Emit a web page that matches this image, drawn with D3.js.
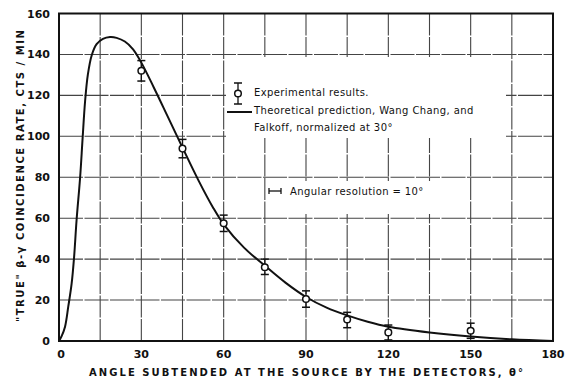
<!DOCTYPE html>
<html>
<head>
<meta charset="utf-8">
<script src="https://cdn.jsdelivr.net/npm/d3@7"></script>
<style>
  body { margin: 0; background: #fff; }
  text { font-family: "DejaVu Sans", sans-serif; fill: #111; }
</style>
</head>
<body>
<script>
// measured points (angle in degrees, rate in cts/min)
const angles = [30, 45, 60, 75, 90, 105, 120, 150];
const rates = [132, 94, 57.5, 36, 20.5, 10.5, 4.2, 5];
const errLow = [127, 89.5, 53.5, 32.5, 16.5, 6.5, 0.5, 1.3];
const errHigh = [137, 98.5, 61.5, 40, 24.5, 14, 7.8, 8.7];

// theoretical curve
const theoryAngle = [0, 1, 2.2, 3.4, 4.6, 5.5, 6.4, 7.7, 8.6, 9.5, 10.5, 11.9, 13.7, 16, 18.6, 21, 24, 27, 30, 34.5, 39.5, 45, 51, 56, 60, 67.5, 75, 82.5, 90, 97.5, 105, 112.5, 120, 135, 150, 165, 180];
const theoryRate = [0, 2.5, 7, 17, 28, 41, 59, 80, 99, 117, 130, 139.5, 145, 147.6, 148.5, 148.1, 146.3, 142.5, 136, 124, 110, 94.5, 78, 65.5, 57, 45.5, 36.8, 28.5, 21.5, 16.3, 12.5, 9.4, 7, 4.2, 2.2, 0.8, 0];

const xTicks = [0, 30, 60, 90, 120, 150, 180];
const yTicks = [0, 20, 40, 60, 80, 100, 120, 140, 160];
const xGrid = [15, 30, 45, 60, 75, 90, 105, 120, 135, 150, 165];
const yGrid = [20, 40, 60, 80, 100, 120, 140];

let width = 565;
let height = 379;

const svg = d3.select('body')
    .append('svg')
    .attr('width', width)
    .attr('height', height);

let x = d3.scaleLinear().domain([0, 180]).range([59, 553]);
let y = d3.scaleLinear().domain([0, 160]).range([341, 13.5]);

// grid
svg.append('g').selectAll('line')
    .data(xGrid)
    .enter().append('line')
    .attr('x1', d => x(d)).attr('x2', d => x(d))
    .attr('y1', y(160)).attr('y2', y(0))
    .attr('stroke', '#444').attr('stroke-width', 1.1)
    .attr('stroke-dasharray', '22,1.5');

svg.append('g').selectAll('line')
    .data(yGrid)
    .enter().append('line')
    .attr('x1', x(0)).attr('x2', x(180))
    .attr('y1', d => y(d)).attr('y2', d => y(d))
    .attr('stroke', '#444').attr('stroke-width', 1.1)
    .attr('stroke-dasharray', '24,1.5');

// white patches behind the legends
svg.append('rect').attr('x', 226).attr('y', 57).attr('width', 280).attr('height', 81).attr('fill', '#fff');
svg.append('rect').attr('x', 268).attr('y', 181).attr('width', 168).attr('height', 33).attr('fill', '#fff');

// frame
svg.append('rect')
    .attr('x', x(0)).attr('y', y(160))
    .attr('width', x(180) - x(0)).attr('height', y(0) - y(160))
    .attr('fill', 'none').attr('stroke', '#111').attr('stroke-width', 2);

// tick labels
svg.append('g').selectAll('text')
    .data(yTicks)
    .enter().append('text')
    .attr('x', 50).attr('y', d => y(d) + 4)
    .attr('text-anchor', 'end')
    .style('font-size', '11px').style('font-weight', 'bold')
    .text(d => d);

svg.append('g').selectAll('text')
    .data(xTicks)
    .enter().append('text')
    .attr('x', d => x(d) + (d === 0 ? 2 : 0)).attr('y', 358)
    .attr('text-anchor', 'middle')
    .style('font-size', '11px').style('font-weight', 'bold')
    .text(d => d);

// axis titles
svg.append('text')
    .attr('x', 89).attr('y', 376)
    .attr('textLength', 434).attr('lengthAdjust', 'spacing')
    .style('font-size', '10px').style('font-weight', 'bold')
    .text('ANGLE SUBTENDED AT THE SOURCE BY THE DETECTORS, θ°');

svg.append('text')
    .attr('transform', 'translate(24,322) rotate(-90)')
    .attr('textLength', 292).attr('lengthAdjust', 'spacing')
    .style('font-size', '10px').style('font-weight', 'bold')
    .text('"TRUE" β-γ COINCIDENCE RATE, CTS / MIN');

// theory curve
let line = d3.line()
    .x((d, i) => x(theoryAngle[i]))
    .y(d => y(d))
    .curve(d3.curveCatmullRom.alpha(0.5));

svg.append('path')
    .datum(theoryRate)
    .attr('d', line)
    .attr('fill', 'none')
    .attr('stroke', '#111')
    .attr('stroke-width', 2);

// experimental points with error bars
let pts = svg.append('g').selectAll('g')
    .data(angles)
    .enter().append('g');

pts.append('line')
    .attr('x1', d => x(d)).attr('x2', d => x(d))
    .attr('y1', (d, i) => y(errLow[i])).attr('y2', (d, i) => y(errHigh[i]))
    .attr('stroke', '#111').attr('stroke-width', 1.3);
pts.append('line')
    .attr('x1', d => x(d) - 4).attr('x2', d => x(d) + 4)
    .attr('y1', (d, i) => y(errHigh[i])).attr('y2', (d, i) => y(errHigh[i]))
    .attr('stroke', '#111').attr('stroke-width', 1.5);
pts.append('line')
    .attr('x1', d => x(d) - 4).attr('x2', d => x(d) + 4)
    .attr('y1', (d, i) => y(errLow[i])).attr('y2', (d, i) => y(errLow[i]))
    .attr('stroke', '#111').attr('stroke-width', 1.5);
pts.append('circle')
    .attr('cx', d => x(d)).attr('cy', (d, i) => y(rates[i]))
    .attr('r', 3.3)
    .attr('fill', '#fff').attr('stroke', '#111').attr('stroke-width', 1.5);

// legend
let lg = svg.append('g');
lg.append('line').attr('x1', 238).attr('x2', 238).attr('y1', 83).attr('y2', 104)
    .attr('stroke', '#111').attr('stroke-width', 1.3);
lg.append('line').attr('x1', 234).attr('x2', 242).attr('y1', 83).attr('y2', 83)
    .attr('stroke', '#111').attr('stroke-width', 1.5);
lg.append('line').attr('x1', 234).attr('x2', 242).attr('y1', 104).attr('y2', 104)
    .attr('stroke', '#111').attr('stroke-width', 1.5);
lg.append('circle').attr('cx', 238).attr('cy', 93.5).attr('r', 3.3)
    .attr('fill', '#fff').attr('stroke', '#111').attr('stroke-width', 1.5);
lg.append('line').attr('x1', 227).attr('x2', 252).attr('y1', 112).attr('y2', 112)
    .attr('stroke', '#111').attr('stroke-width', 2);

lg.append('text').attr('x', 254).attr('y', 96).style('font-size', '10px').style('letter-spacing', '0.4px')
    .text('Experimental results.');
lg.append('text').attr('x', 254).attr('y', 114).style('font-size', '10px').style('letter-spacing', '0.4px')
    .text('Theoretical prediction, Wang Chang, and');
lg.append('text').attr('x', 254).attr('y', 131).style('font-size', '10px').style('letter-spacing', '0.4px')
    .text('Falkoff, normalized at 30°');

// angular resolution key
lg.append('line').attr('x1', 269).attr('x2', 281).attr('y1', 191).attr('y2', 191)
    .attr('stroke', '#111').attr('stroke-width', 1.3);
lg.append('line').attr('x1', 269).attr('x2', 269).attr('y1', 188).attr('y2', 194)
    .attr('stroke', '#111').attr('stroke-width', 1.3);
lg.append('line').attr('x1', 281).attr('x2', 281).attr('y1', 188).attr('y2', 194)
    .attr('stroke', '#111').attr('stroke-width', 1.3);
lg.append('text').attr('x', 290).attr('y', 195).style('font-size', '10px').style('letter-spacing', '0.4px')
    .text('Angular resolution = 10°');
</script>
</body>
</html>
